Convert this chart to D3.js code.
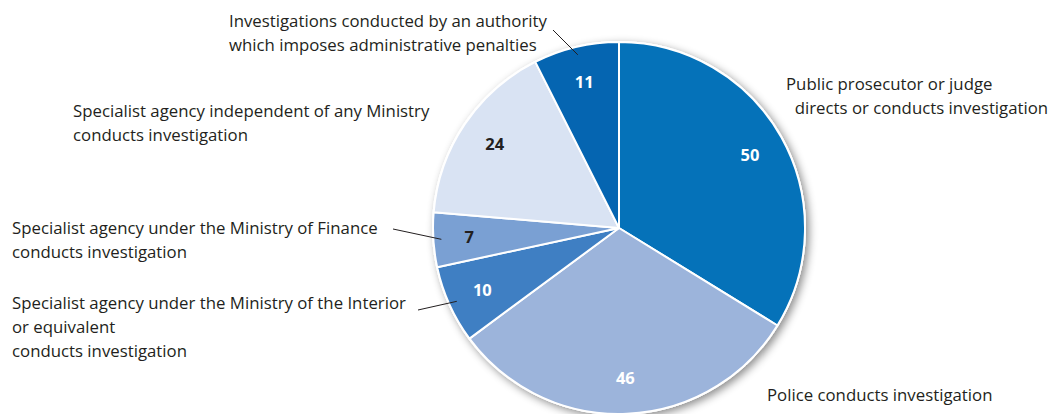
<!DOCTYPE html>
<html>
<head>
<meta charset="utf-8">
<script src="https://cdn.jsdelivr.net/npm/d3@7"></script>
<style>
  html, body { margin: 0; padding: 0; background: #fff; }
  svg { display: block; }
  .lbl { font-family: "Open Sans", "Noto Sans", sans-serif; font-size: 16.8px; fill: #231f20; }
  .val { font-family: "Open Sans", "Noto Sans", sans-serif; font-size: 16.5px; font-weight: bold; }
</style>
</head>
<body>
<svg id="chart" width="1053" height="414"></svg>
<script>
// Who conducts the investigation — number of responses per category
const categories = [
  "Public prosecutor or judge directs or conducts investigation",
  "Police conducts investigation",
  "Specialist agency under the Ministry of the Interior or equivalent conducts investigation",
  "Specialist agency under the Ministry of Finance conducts investigation",
  "Specialist agency independent of any Ministry conducts investigation",
  "Investigations conducted by an authority which imposes administrative penalties"
];
const values = [50, 46, 10, 7, 24, 11];
const labelLines = [
  ["Public prosecutor or judge", "  directs or conducts investigation"],
  ["Police conducts investigation"],
  ["Specialist agency under the Ministry of the Interior", "or equivalent", "conducts investigation"],
  ["Specialist agency under the Ministry of Finance", "conducts investigation"],
  ["Specialist agency independent of any Ministry", "conducts investigation"],
  ["Investigations conducted by an authority", "which imposes administrative penalties"]
];
const sliceColors = ["#0572b9", "#9cb4db", "#3f7fc3", "#7aa0d3", "#d9e3f3", "#0565b1"];
const valueColors = ["#ffffff", "#ffffff", "#ffffff", "#231f20", "#231f20", "#ffffff"];

// Layout
const cx = 619, cy = 228, R = 186;
const valueRadius = 150, leaderRadius = 178;
const lineHeight = 24;
// text block anchor (left x, first baseline) and optional leader start point
const labelLayout = [
  { x: 786, y: 90 },
  { x: 767, y: 401 },
  { x: 12, y: 309, lead: [418, 310] },
  { x: 12, y: 234, lead: [393, 229] },
  { x: 73, y: 117 },
  { x: 229, y: 27, lead: [553, 30] }
];

const svg = d3.select("#chart");
const defs = svg.append("defs");
const f = defs.append("filter").attr("id", "shadow")
  .attr("x", "-20%").attr("y", "-20%").attr("width", "140%").attr("height", "140%");
f.append("feDropShadow").attr("dx", 3).attr("dy", 3).attr("stdDeviation", 4)
  .attr("flood-color", "#000").attr("flood-opacity", 0.45);

const pie = d3.pie().sort(null).value(d => d);
const arcs = pie(values);
const arc = d3.arc().innerRadius(0).outerRadius(R);
const valueArc = d3.arc().innerRadius(valueRadius).outerRadius(valueRadius);
const leaderArc = d3.arc().innerRadius(leaderRadius).outerRadius(leaderRadius);

const g = svg.append("g").attr("transform", `translate(${cx},${cy})`);

// white disc behind slices carries the soft shadow
g.append("circle").attr("r", R + 1).attr("fill", "#fff").attr("filter", "url(#shadow)");

g.selectAll("path.slice").data(arcs).join("path")
  .attr("class", "slice")
  .attr("d", arc)
  .attr("fill", (d, i) => sliceColors[i])
  .attr("stroke", "#fff")
  .attr("stroke-width", 2)
  .attr("stroke-linejoin", "round");

g.selectAll("text.val").data(arcs).join("text")
  .attr("class", "val")
  .attr("transform", d => `translate(${valueArc.centroid(d)})`)
  .attr("text-anchor", "middle")
  .attr("dy", "0.35em")
  .attr("fill", (d, i) => valueColors[i])
  .text(d => d.data);

// leader lines
arcs.forEach((d, i) => {
  const lay = labelLayout[i];
  if (!lay.lead) return;
  const [ex, ey] = leaderArc.centroid(d);
  svg.append("line")
    .attr("x1", lay.lead[0]).attr("y1", lay.lead[1])
    .attr("x2", cx + ex).attr("y2", cy + ey)
    .attr("stroke", "#231f20").attr("stroke-width", 1);
});

// category labels
labelLines.forEach((lines, i) => {
  const lay = labelLayout[i];
  const t = svg.append("text").attr("class", "lbl")
    .attr("x", lay.x).attr("y", lay.y);
  lines.forEach((ln, j) => {
    t.append("tspan").attr("x", lay.x).attr("y", lay.y + j * lineHeight)
      .style("white-space", "pre").text(ln);
  });
});
</script>
</body>
</html>
